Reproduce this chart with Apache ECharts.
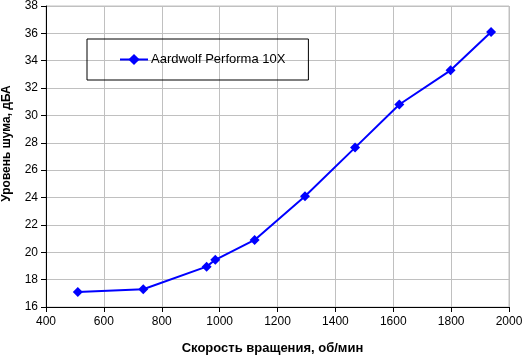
<!DOCTYPE html>
<html><head><meta charset="utf-8">
<script src="https://cdn.jsdelivr.net/npm/echarts@6/dist/echarts.min.js"></script>
<style>html,body{margin:0;padding:0;background:#fff}#c{width:522px;height:356px}</style>
</head><body><div id="c"></div>
<script>
const seriesName = 'Aardwolf Performa 10X';
const rpm = [510, 736, 955, 985, 1121, 1295, 1468, 1621, 1798, 1938];
const noise = [17.1, 17.3, 18.95, 19.45, 20.9, 24.1, 27.65, 30.8, 33.3, 36.1];
const xTitle = 'Скорость вращения, об/мин';
const yTitle = 'Уровень шума, дБА';

const chart = echarts.init(document.getElementById('c'), null, {renderer: 'canvas'});
const font = 'Liberation Sans, Arial, sans-serif';
chart.setOption({
  animation: false,
  backgroundColor: '#fff',
  textStyle: {fontFamily: font},
  grid: {left: 46, right: 13, top: 6, bottom: 49, show: true, borderColor: '#c0c0c0', borderWidth: 1,
         containLabel: false, outerBoundsMode: 'none'},
  legend: {
    left: 87, top: 39, orient: 'horizontal',
    borderColor: '#000', borderWidth: 1, padding: [14, 23, 14, 32],
    itemWidth: 28, itemHeight: 14, itemGap: 4,
    textStyle: {fontFamily: font, fontSize: 13, color: '#000', padding: [0,0,0,-2]},
    data: [seriesName]
  },
  xAxis: {
    type: 'value', min: 400, max: 2000, interval: 200,
    name: xTitle, nameLocation: 'middle', nameGap: 35,
    nameTextStyle: {fontFamily: font, fontSize: 13, fontWeight: 'bold', color: '#000', padding: [0, 10, 0, 0]},
    axisLine: {show: true, lineStyle: {color: '#000', width: 1}},
    axisTick: {show: true, length: 5, lineStyle: {color: '#000'}},
    axisLabel: {fontFamily: font, fontSize: 12, color: '#000', margin: 9, formatter: v => String(v)},
    splitLine: {show: true, lineStyle: {color: '#c0c0c0', width: 1}}
  },
  yAxis: {
    type: 'value', min: 16, max: 38, interval: 2,
    name: yTitle, nameLocation: 'middle', nameGap: 33,
    nameTextStyle: {fontFamily: font, fontSize: 12, fontWeight: 'bold', color: '#000', padding: [0, 0, 0, 26]},
    axisLine: {show: true, lineStyle: {color: '#000', width: 1}},
    axisTick: {show: true, length: 5, lineStyle: {color: '#000'}},
    axisLabel: {fontFamily: font, fontSize: 12, color: '#000', margin: 8, formatter: v => String(v)},
    splitLine: {show: true, lineStyle: {color: '#c0c0c0', width: 1}}
  },
  series: [{
    name: seriesName, type: 'line',
    data: rpm.map((x, i) => [x, noise[i]]),
    symbol: 'diamond', symbolSize: 10,
    lineStyle: {color: '#0000ff', width: 2},
    itemStyle: {color: '#0000ff'}
  }]
});
</script></body></html>
